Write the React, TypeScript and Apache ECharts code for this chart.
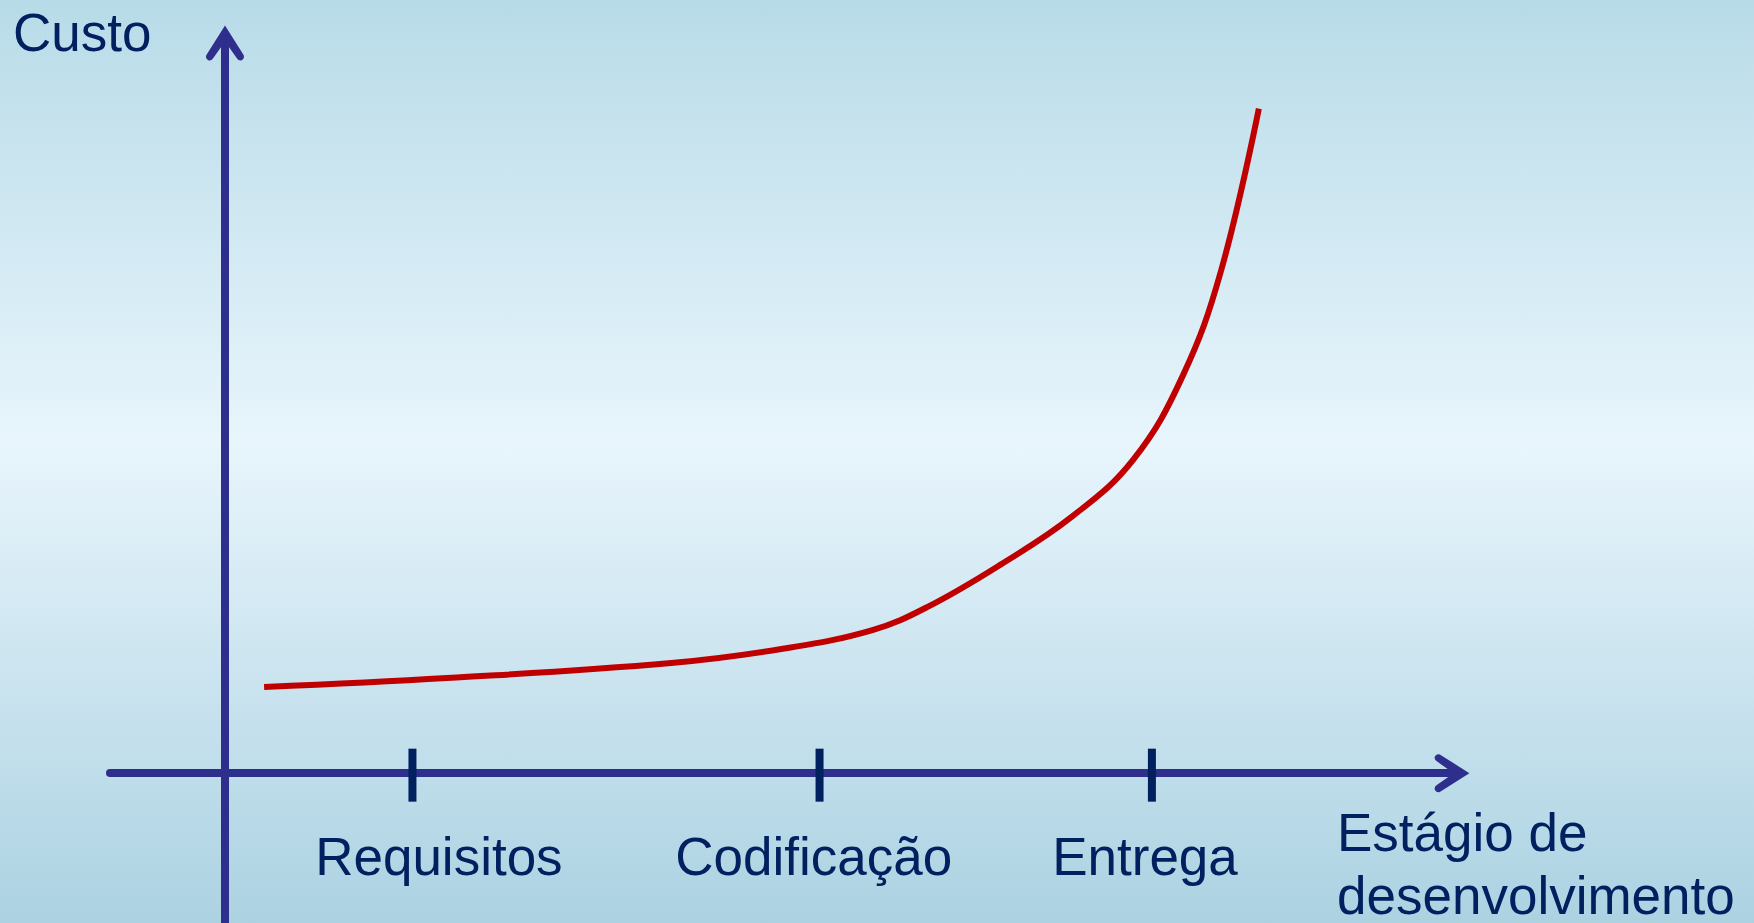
import React, { useEffect, useRef } from "react";
import * as echarts from "echarts";

// Stage axis (x): arbitrary units, y axis at 0
const stageNames = ["Requisitos", "Codificação", "Entrega"];
const stageTickValues = [16.3, 51.7, 80.6];
const stageLabelValues = [18.6, 51.2, 80.0];

// Cost curve (x = stage position, y = cost)
const curveX = [3.4, 19.3, 38.8, 48.5, 56.3, 61.1, 67.4, 73.7, 79.0, 83.3, 86.6, 89.9];
const curveY = [11.5, 12.7, 14.7, 16.6, 19.1, 22.2, 27.8, 34.3, 41.9, 53.1, 67.0, 88.7];

const yTitle = "Custo";
const xTitle = "Estágio de\ndesenvolvimento";

const AXIS_COLOR = "#2E2E8C";
const TEXT_COLOR = "#002060";
const FONT = "'Liberation Sans', Arial, sans-serif";
const CHEVRON =
  "path://M19,0 L38,30 Q39,33 36,35 Q33,36 31,33 L19,16 L7,33 Q5,36 2,35 Q-1,33 0,30 Z";

export default function App() {
  const ref = useRef<HTMLDivElement>(null);

  useEffect(() => {
    if (!ref.current) return;
    const chart = echarts.init(ref.current, undefined, { renderer: "svg" });
    const axisLineStyle = {
      color: AXIS_COLOR,
      width: 8,
    };
    chart.setOption({
      animation: false,
      backgroundColor: new echarts.graphic.LinearGradient(0, 0, 0, 1, [
        { offset: 0, color: "#B8DBE8" },
        { offset: 0.48, color: "#E8F5FC" },
        { offset: 1, color: "#ACD2E2" },
      ]),
      title: [
        {
          text: yTitle,
          left: 13,
          top: 6,
          padding: 0,
          textStyle: { color: TEXT_COLOR, fontSize: 53, fontWeight: "normal", fontFamily: FONT },
        },
        {
          text: xTitle,
          left: 1337,
          top: 801,
          padding: 0,
          textStyle: {
            color: TEXT_COLOR,
            fontSize: 53,
            lineHeight: 63,
            fontWeight: "normal",
            fontFamily: FONT,
          },
        },
      ],
      grid: {
        left: 110,
        right: 298.5,
        top: 39,
        bottom: 0,
        containLabel: false,
        outerBoundsMode: "none",
      },
      xAxis: {
        type: "value",
        min: -10,
        max: 107,
        splitLine: { show: false },
        axisTick: { show: false },
        axisLabel: { show: false },
        axisLine: {
          show: true,
          onZero: true,
          lineStyle: axisLineStyle,
          symbol: ["none", CHEVRON],
          symbolSize: [38, 36],
          symbolOffset: [0, -3.5],
        },
      },
      yAxis: {
        type: "value",
        min: -20,
        max: 98,
        splitLine: { show: false },
        axisTick: { show: false },
        axisLabel: { show: false },
        axisLine: {
          show: true,
          onZero: true,
          lineStyle: axisLineStyle,
          symbol: ["none", CHEVRON],
          symbolSize: [38, 36],
          symbolOffset: [0, -4],
        },
      },
      series: [
        {
          type: "line",
          data: curveX.map((x, i) => [x, curveY[i]]),
          smooth: 0.4,
          showSymbol: false,
          symbol: "none",
          lineStyle: { color: "#C00000", width: 6, cap: "butt" },
          z: 3,
        },
        {
          type: "scatter",
          data: stageTickValues.map((x) => [x, 0]),
          symbol: "rect",
          symbolSize: [8, 53],
          symbolOffset: [0, 2],
          itemStyle: { color: TEXT_COLOR, opacity: 1 },
          z: 4,
        },
        {
          type: "scatter",
          data: stageLabelValues.map((x, i) => ({ value: [x, 0], name: stageNames[i] })),
          symbolSize: 0,
          itemStyle: { color: "transparent", opacity: 1 },
          silent: true,
          label: {
            show: true,
            position: "inside",
            formatter: "{b}",
            offset: [0, 83],
            align: "center",
            verticalAlign: "middle",
            color: TEXT_COLOR,
            opacity: 1,
            fontSize: 53,
            fontFamily: FONT,
          },
          z: 4,
        },
      ],
    });
    return () => chart.dispose();
  }, []);

  return (
    <div
      ref={ref}
      style={{ position: "fixed", left: 0, top: 0, width: 1754, height: 923 }}
    />
  );
}
